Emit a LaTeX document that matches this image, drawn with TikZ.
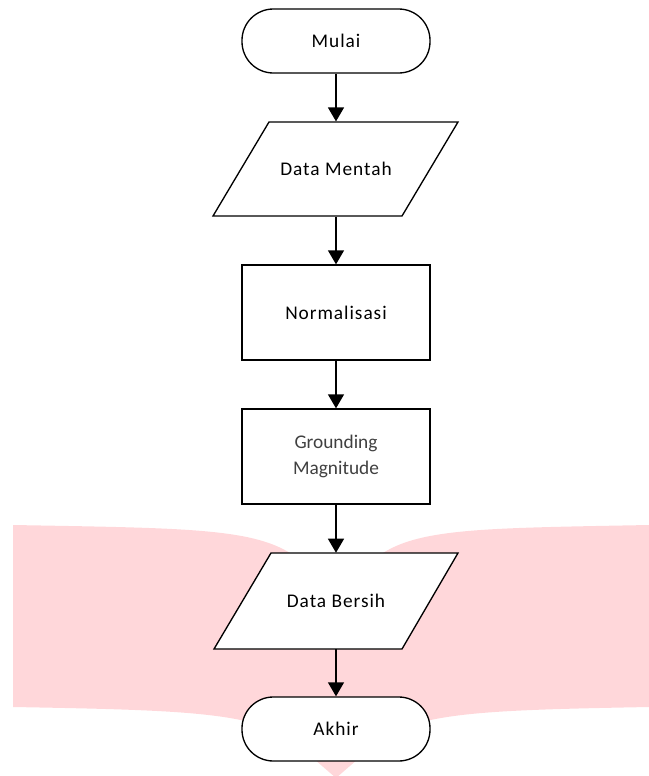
\documentclass[tikz,border=0pt]{standalone}
\usepackage{fontspec}
\setmainfont{Carlito}
\newfontfamily\spacedfont[LetterSpace=5]{Carlito}
\usetikzlibrary{arrows.meta}
\definecolor{pinkbg}{HTML}{FFD7DA}
\definecolor{txtgray}{HTML}{404040}
\begin{document}
\begin{tikzpicture}[x=0.75pt,y=-0.75pt,
  every node/.style={font=\spacedfont\fontsize{14.5}{18}\selectfont, text=black},
  term/.style={draw, line width=1pt, fill=white, rounded corners=23.5pt, minimum width=141pt, minimum height=48pt, inner sep=0pt},
  procbox/.style={draw, line width=1pt, fill=white, minimum width=141pt, minimum height=71.25pt, inner sep=0pt, align=center},
  iotext/.style={minimum width=80pt, minimum height=71pt, inner sep=0pt},
  para/.style={draw, line width=1pt, fill=white},
  flow/.style={line width=1pt, -{Triangle[width=12pt,length=10.5pt]}}]
\useasboundingbox (0,0) rectangle (649,776);
% background book-like shape
\fill[pinkbg] (13,525) .. controls (180,528) and (250,528) .. (290,553)
  -- (336,582) -- (383,553) .. controls (422,528) and (490,528) .. (649,525)
  -- (649,707) .. controls (490,710) and (420,712) .. (380,740)
  -- (336,778) -- (292,740) .. controls (252,712) and (180,710) .. (13,707) -- cycle;
% nodes
\node[term] (mulai) at (336,41) {Mulai};
\draw[para] (269,122) -- (458,122) -- (402,216) -- (213,216) -- cycle;
\node[iotext] (mentah) at (336,169) {Data Mentah};
\node[procbox] (norm) at (336,312.5) {Normalisasi};
\node[procbox, text=txtgray, font=\normalfont\fontsize{14.5}{18}\selectfont] (ground) at (336,456.5) {Grounding\\[2pt]Magnitude};
\draw[para] (271,553) -- (458,553) -- (402,649) -- (214,649) -- cycle;
\node[iotext, minimum height=72pt] (bersih) at (336,601) {Data Bersih};
\node[term] (akhir) at (336,729) {Akhir};
% connectors
\draw[flow] (mulai) -- (mentah);
\draw[flow] (mentah) -- (norm);
\draw[flow] (norm) -- (ground);
\draw[flow] (ground) -- (bersih);
\draw[flow] (bersih) -- (akhir);
\end{tikzpicture}
\end{document}
